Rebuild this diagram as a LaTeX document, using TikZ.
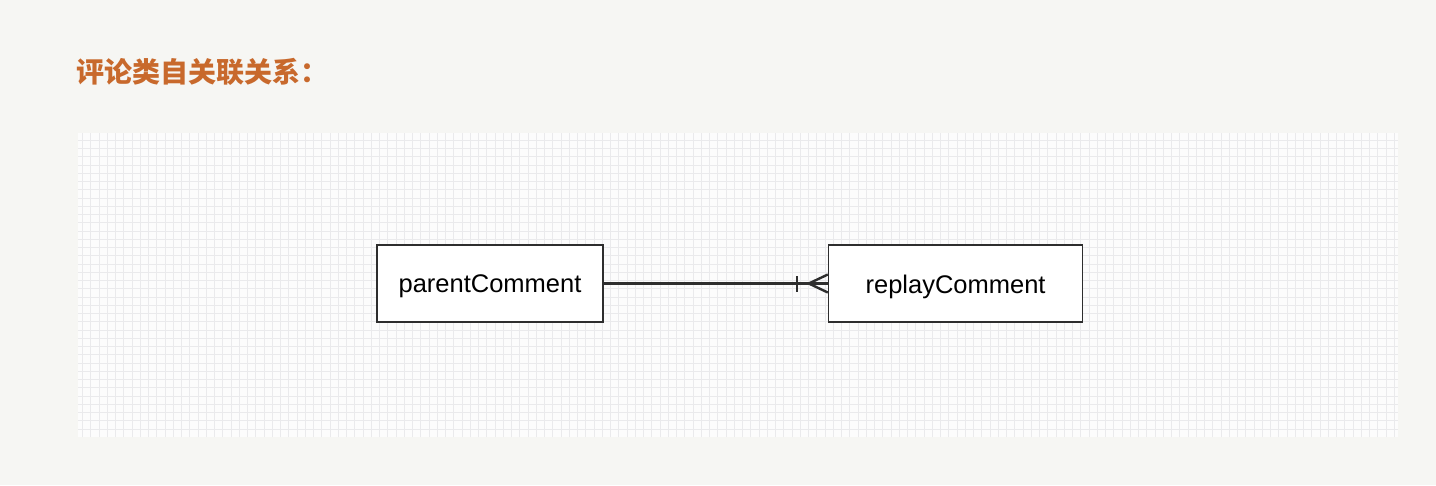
\documentclass[tikz,border=0pt]{standalone}
\usepackage{fontspec}
\setmainfont{Liberation Sans}
\newfontfamily\cjk{Noto Sans CJK SC}
\usetikzlibrary{positioning}

\definecolor{pagebg}{HTML}{F6F6F3}
\definecolor{gridbg}{HTML}{FCFCFC}
\definecolor{gridln}{HTML}{EAEAEC}
\definecolor{titleorange}{HTML}{C8692C}
\definecolor{edgegray}{HTML}{2E2E2E}

\begin{document}
\begin{tikzpicture}[x=1pt,y=-1pt,node distance=224pt,
    entity/.style={rectangle,draw=edgegray,line width=1.6pt,fill=white,minimum height=77pt,inner sep=0pt,font=\fontsize{25.5}{30}\selectfont},
    relline/.style={draw=edgegray,line width=2.4pt},
    gridline/.style={draw=gridln,line width=0.6pt}]

            \useasboundingbox[fill=pagebg] (0,0) rectangle (1436,485);
            \fill[gridbg] (78,133) rectangle (1398,437);
            \draw[gridline,step=8.25pt] (78,133) grid (1398,437);

            \node[anchor=west,text=titleorange,font=\cjk\bfseries\fontsize{28}{32}\selectfont] (title) at (73,72) {评论类自关联关系：};

            \node[entity,minimum width=226pt] (parent) at (490,283.5) {\raisebox{-3pt}[\height][\depth]{parentComment}};
            \node[entity,minimum width=254pt] (replay) [right=224pt of parent] {\raisebox{-3pt}[\height][\depth]{replayComment}};

            \coordinate (foot) at ([xshift=-19pt]replay.west);

              \draw[relline] (parent) -- (replay);
              \draw[relline] ([xshift=-31pt,yshift=-8pt]replay.west) -- ([xshift=-31pt,yshift=8pt]replay.west);
              \draw[relline] ([yshift=-9pt]replay.west) -- (foot) -- ([yshift=9pt]replay.west);
            \end{tikzpicture}
\end{document}
